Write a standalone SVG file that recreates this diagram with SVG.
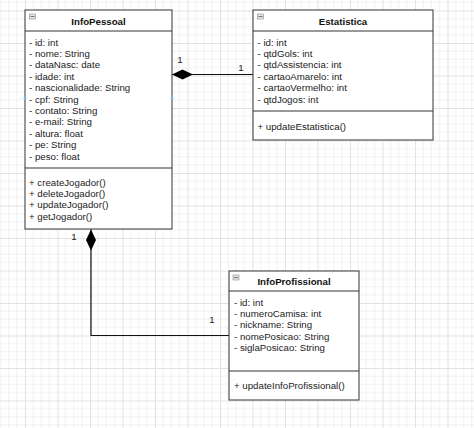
<svg xmlns="http://www.w3.org/2000/svg" width="474" height="428" viewBox="0 0 474 428">
  <style>
    .box { fill: #ffffff; stroke: #333333; stroke-width: 1; }
    .sep { stroke: #333333; stroke-width: 1; }
    .t { font-family: "Liberation Sans", Arial, sans-serif; font-size: 9.7px; fill: #222222; }
    .title { font-family: "Liberation Sans", Arial, sans-serif; font-size: 9.7px; font-weight: bold; fill: #111111; text-anchor: middle; }
    .lbl { font-family: "Liberation Sans", Arial, sans-serif; font-size: 9.7px; fill: #222222; text-anchor: middle; }
    .conn { fill: none; stroke: #111111; stroke-width: 1.2; }
    .icon { fill: #e4e4e4; stroke: #8a8a8a; stroke-width: 0.6; }
    .iconline { stroke: #555555; stroke-width: 0.8; }
    .pt { stroke: #7cc4e6; stroke-width: 1; }
  </style>
  <defs>
    <pattern id="grid" x="25" y="10.5" width="32.5" height="32.5" patternUnits="userSpaceOnUse">
      <path d="M8.125 0V32.5M16.25 0V32.5M24.375 0V32.5M0 8.125H32.5M0 16.25H32.5M0 24.375H32.5" stroke="#f1f1f1" stroke-width="1" fill="none"/>
      <path d="M0.5 0V32.5M0 0.5H32.5" stroke="#e2e2e2" stroke-width="1" fill="none"/>
    </pattern>
    <marker id="diamond" markerUnits="userSpaceOnUse" markerWidth="22" markerHeight="12" refX="0" refY="5.5" orient="auto" viewBox="0 0 22 11">
      <path d="M0 5.5 L10.5 0.5 L21 5.5 L10.5 10.5 Z" fill="#000000"/>
    </marker>
  </defs>
  <rect x="0" y="0" width="474" height="428" fill="#ffffff"/>
  <rect x="0" y="0" width="474" height="428" fill="url(#grid)"/>

  <g id="connectors">
    <line class="conn" x1="172" y1="74.5" x2="253" y2="74.5" marker-start="url(#diamond)"/>
    <polyline class="conn" points="91,229.5 91,335.5 229,335.5" marker-start="url(#diamond)"/>
    <text class="lbl" x="180" y="62.5">1</text>
    <text class="lbl" x="241" y="70.5">1</text>
    <text class="lbl" x="74" y="240">1</text>
    <text class="lbl" x="212" y="322.5">1</text>
  </g>

  <g id="InfoPessoal">
    <rect class="box" x="25" y="10" width="147" height="219"/>
    <line class="sep" x1="25" y1="31" x2="172" y2="31"/>
    <line class="sep" x1="25" y1="168" x2="172" y2="168"/>
    <rect class="icon" x="29.5" y="14" width="6" height="5"/>
    <line class="iconline" x1="30.5" y1="16.5" x2="34.5" y2="16.5"/>
    <text class="title" x="98.5" y="24.5">InfoPessoal</text>
    <text class="t" x="29" y="45.5">- id: int</text>
    <text class="t" x="29" y="56.9">- nome: String</text>
    <text class="t" x="29" y="68.3">- dataNasc: date</text>
    <text class="t" x="29" y="79.7">- idade: int</text>
    <text class="t" x="29" y="91.1">- nascionalidade: String</text>
    <text class="t" x="29" y="102.5">- cpf: String</text>
    <text class="t" x="29" y="113.9">- contato: String</text>
    <text class="t" x="29" y="125.3">- e-mail: String</text>
    <text class="t" x="29" y="136.7">- altura: float</text>
    <text class="t" x="29" y="148.1">- pe: String</text>
    <text class="t" x="29" y="159.5">- peso: float</text>
    <text class="t" x="29" y="185.5">+ createJogador()</text>
    <text class="t" x="29" y="196.9">+ deleteJogador()</text>
    <text class="t" x="29" y="208.3">+ updateJogador()</text>
    <text class="t" x="29" y="219.7">+ getJogador()</text>
    <path class="pt" d="M25 96.5V100M23.5 98.3H26.5M172 96.5V100M170.5 98.3H173.5"/>
  </g>

  <g id="Estatistica">
    <rect class="box" x="253" y="10" width="180" height="130"/>
    <line class="sep" x1="253" y1="31" x2="433" y2="31"/>
    <line class="sep" x1="253" y1="111" x2="433" y2="111"/>
    <rect class="icon" x="257.5" y="14" width="6" height="5"/>
    <line class="iconline" x1="258.5" y1="16.5" x2="262.5" y2="16.5"/>
    <text class="title" x="343" y="24.5">Estatistica</text>
    <text class="t" x="257.5" y="45.5">- id: int</text>
    <text class="t" x="257.5" y="56.9">- qtdGols: int</text>
    <text class="t" x="257.5" y="68.3">- qtdAssistencia: int</text>
    <text class="t" x="257.5" y="79.7">- cartaoAmarelo: int</text>
    <text class="t" x="257.5" y="91.1">- cartaoVermelho: int</text>
    <text class="t" x="257.5" y="102.5">- qtdJogos: int</text>
    <text class="t" x="257.5" y="129.5">+ updateEstatistica()</text>
  </g>

  <g id="InfoProfissional">
    <rect class="box" x="229" y="271" width="130" height="129"/>
    <line class="sep" x1="229" y1="291" x2="359" y2="291"/>
    <line class="sep" x1="229" y1="371" x2="359" y2="371"/>
    <rect class="icon" x="233" y="275" width="6" height="5"/>
    <line class="iconline" x1="234" y1="277.5" x2="238" y2="277.5"/>
    <text class="title" x="294" y="284.8">InfoProfissional</text>
    <text class="t" x="234" y="305.5">- id: int</text>
    <text class="t" x="234" y="316.9">- numeroCamisa: int</text>
    <text class="t" x="234" y="328.3">- nickname: String</text>
    <text class="t" x="234" y="339.7">- nomePosicao: String</text>
    <text class="t" x="234" y="351.1">- siglaPosicao: String</text>
    <text class="t" x="234" y="389.2">+ updateInfoProfissional()</text>
  </g>
</svg>
